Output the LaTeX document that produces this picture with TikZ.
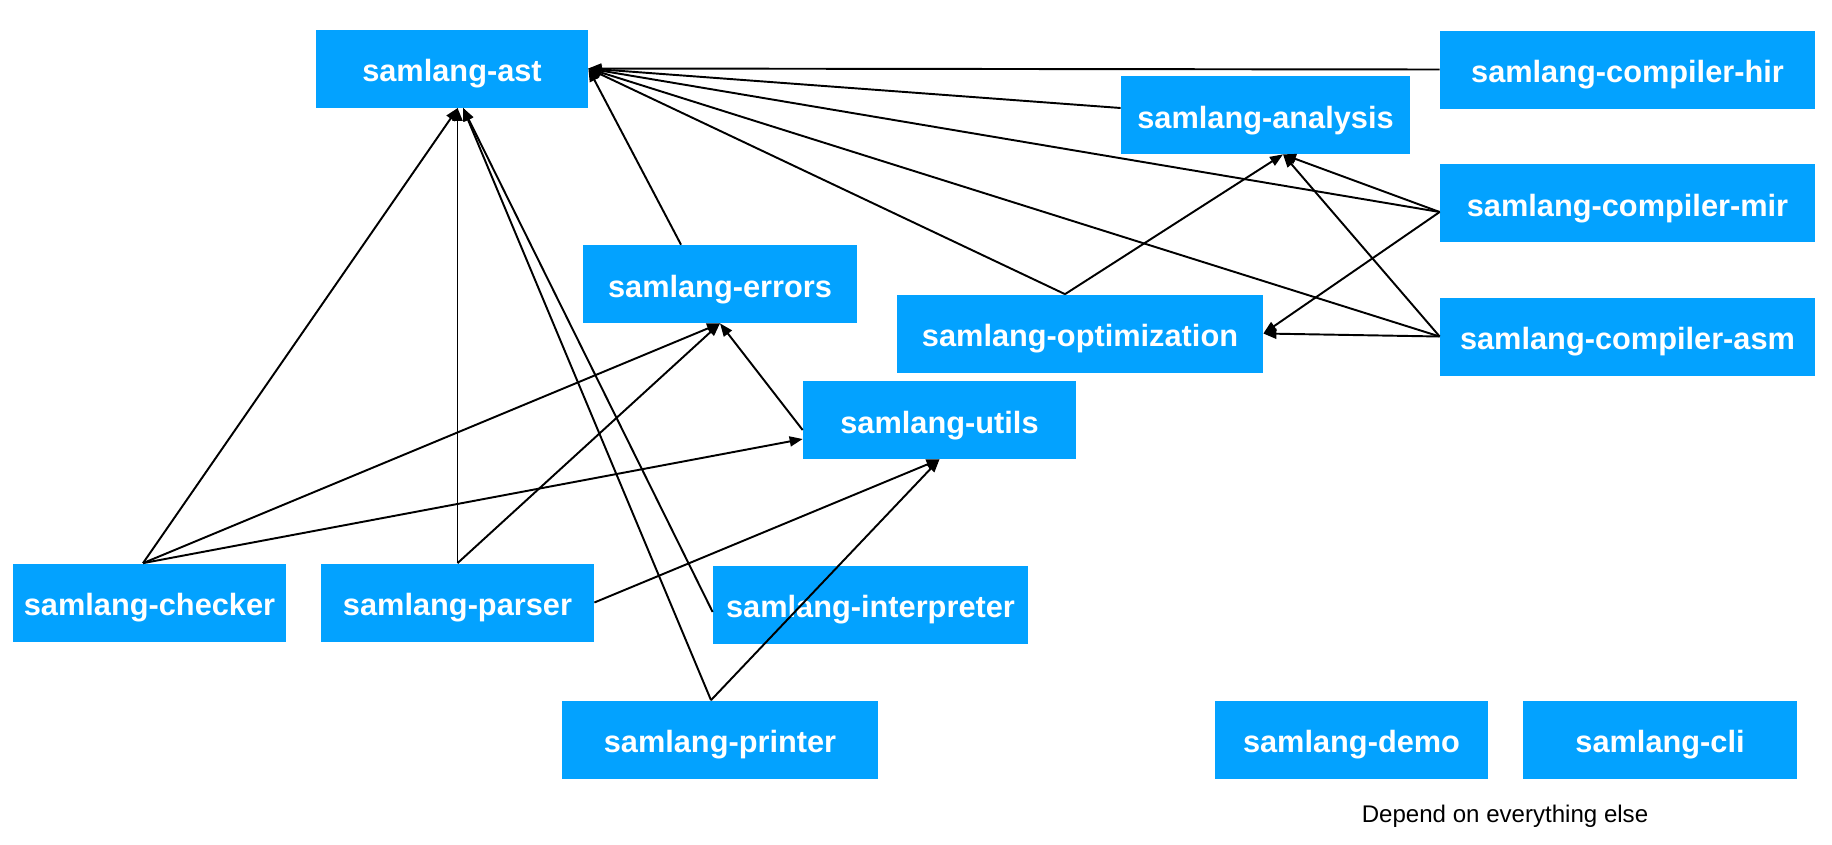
\documentclass[tikz,border=0pt]{standalone}
\usepackage{fontspec}
\setmainfont{Liberation Sans}
\usetikzlibrary{arrows.meta}
\definecolor{crateblue}{RGB}{3,162,255}

\begin{document}
\begin{tikzpicture}[>={Triangle[length=.26cm,width=.2cm]}, line join=round,
        crate/.style={fill=crateblue, text=white, inner sep=0pt, minimum height=1.56cm,
            text height=.52cm, text depth=0pt,
            font=\bfseries\fontsize{17.5}{21}\selectfont},
        dep/.style={->, line width=1.1pt}]
        \useasboundingbox (0,0) rectangle (36.64,-16.88);
        % crates
        \node[crate, minimum width=5.44cm] (ast) at (9.04,-1.37) {samlang-ast};
        \node[crate, minimum width=7.5cm] (hir) at (32.55,-1.39) {samlang-compiler-hir};
        \node[crate, minimum width=5.78cm] (analysis) at (25.31,-2.30) {samlang-analysis};
        \node[crate, minimum width=7.5cm] (mir) at (32.55,-4.06) {samlang-compiler-mir};
        \node[crate, minimum width=7.5cm] (asm) at (32.55,-6.73) {samlang-compiler-asm};
        \node[crate, minimum width=7.32cm] (opt) at (21.6,-6.67) {samlang-optimization};
        \node[crate, minimum width=5.48cm] (errors) at (14.4,-5.68) {samlang-errors};
        \node[crate, minimum width=5.46cm] (utils) at (18.79,-8.4) {samlang-utils};
        \node[crate, minimum width=5.46cm] (checker) at (2.99,-12.05) {samlang-checker};
        \node[crate, minimum width=5.46cm] (parser) at (9.15,-12.05) {samlang-parser};
        \node[crate, minimum width=6.3cm] (interp) at (17.41,-12.09) {samlang-interpreter};
        \node[crate, minimum width=6.32cm] (printer) at (14.4,-14.79) {samlang-printer};
        \node[crate, minimum width=5.46cm] (demo) at (27.03,-14.79) {samlang-demo};
        \node[crate, minimum width=5.48cm] (cli) at (33.2,-14.79) {samlang-cli};
        \node (note) at (30.1,-16.32) {\fontsize{13.7}{16}\selectfont Depend on everything else};
        % dependencies
        \draw[dep] (hir.west) -- (ast.east);
        \draw[dep] ([yshift=.14cm]analysis.west) -- (ast.east);
        \draw[dep] ([yshift=-.18cm]mir.west) -- (ast.east);
        \draw[dep] (asm.west) -- (ast.east);
        \draw[dep] ([xshift=-.3cm]opt.north) -- (ast.east);
        \draw[dep] ([xshift=-.78cm]errors.north) -- (ast.east);
        \draw[dep] ([xshift=-.13cm]checker.north) -- ([xshift=.12cm]ast.south);
        \draw[dep] (parser.north) -- (parser.north |- ast.south);
        \draw[dep] ([yshift=-.15cm]interp.west) -- ([xshift=.22cm]ast.south);
        \draw[dep] ([xshift=-.18cm]printer.north) -- ([xshift=.22cm]ast.south);
        \draw[dep] ([xshift=-.13cm]checker.north) -- (errors.south);
        \draw[dep] ([xshift=-.13cm]checker.north) -- ([yshift=-.38cm]utils.west);
        \draw[dep] (parser.north) -- (errors.south);
        \draw[dep] (parser.east) -- (utils.south);
        \draw[dep] ([yshift=-.2cm]utils.west) -- (errors.south);
        \draw[dep] ([xshift=-.18cm]printer.north) -- (utils.south);
        \draw[dep] ([xshift=-.3cm]opt.north) -- ([xshift=.35cm]analysis.south);
        \draw[dep] ([yshift=-.18cm]mir.west) -- ([xshift=.35cm]analysis.south);
        \draw[dep] (asm.west) -- ([xshift=.35cm]analysis.south);
        \draw[dep] ([yshift=-.18cm]mir.west) -- (opt.east);
        \draw[dep] (asm.west) -- (opt.east);
\end{tikzpicture}
\end{document}
